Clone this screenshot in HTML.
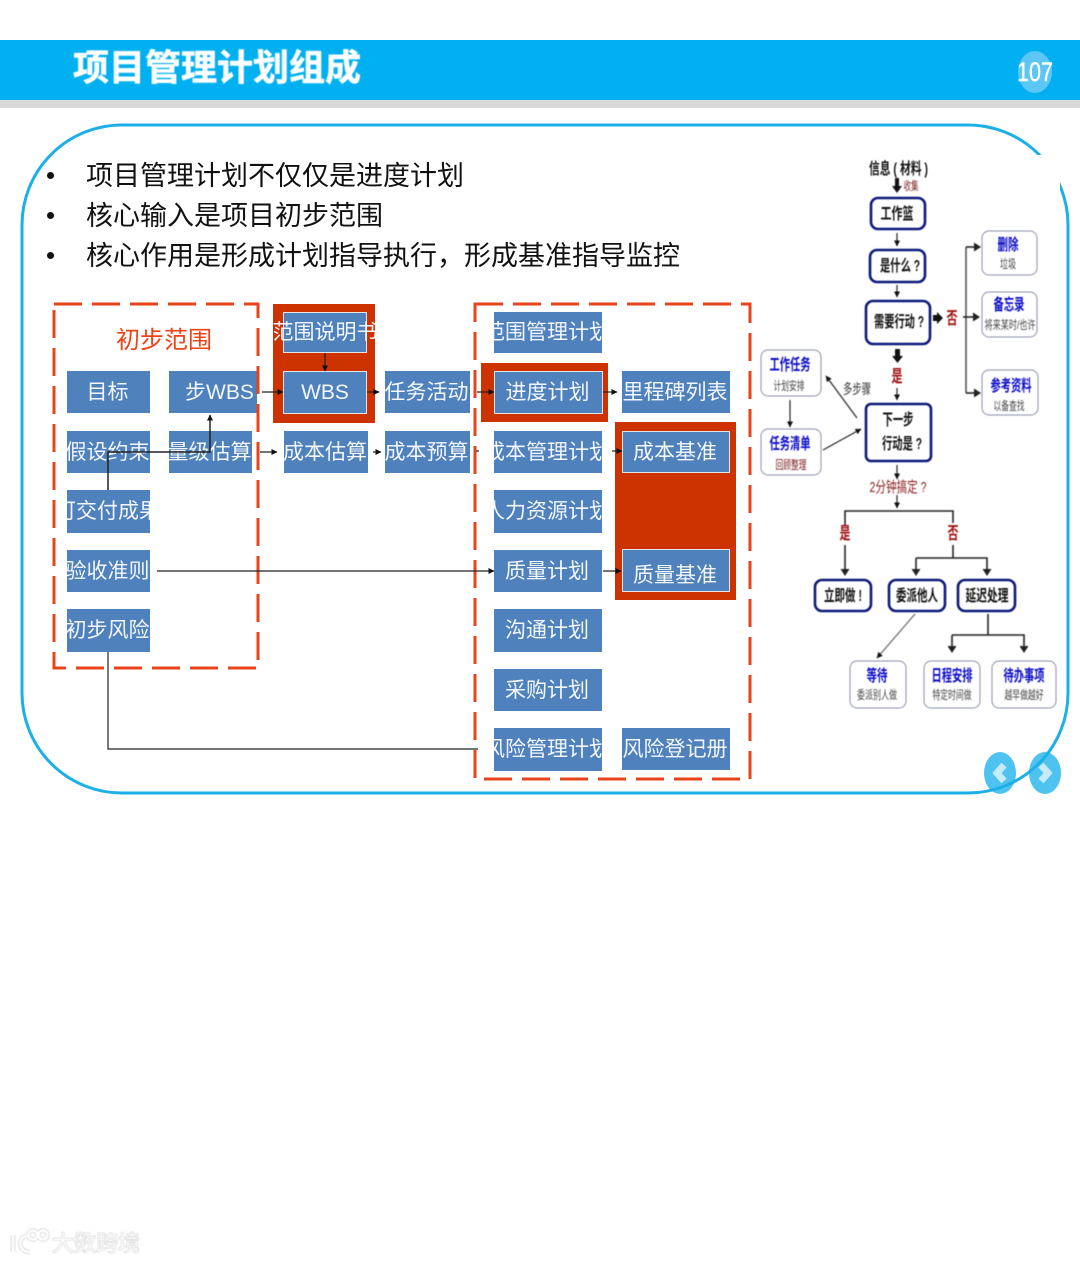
<!DOCTYPE html>
<html lang="zh"><head><meta charset="utf-8"><title>项目管理计划组成</title>
<style>
html,body{margin:0;padding:0;background:#fff}
#p{position:relative;width:1080px;height:1263px;overflow:hidden;background:#fff;font-family:"Liberation Sans","Noto Sans CJK SC",sans-serif}
#p>*{position:absolute}
.bar{left:0;top:40px;width:1080px;height:60px;background:#00b0f0}
.gr{left:0;top:100px;width:1080px;height:8px;background:#d9d9d9}
.t{left:73px;top:44px;font-size:36px;line-height:48px;font-weight:700;color:#fff;white-space:nowrap;-webkit-text-stroke:.6px #fff;filter:blur(.4px)}
.l{left:86px;font-size:27px;line-height:36px;color:#111;white-space:nowrap;filter:blur(.3px)}
.d{left:47px;width:7px;height:7px;border-radius:50%;background:#111}
.r{background:#cc3300}
.b{background:#4f81bd;color:#f4f7fb;font-size:21px;line-height:1;display:flex;align-items:center;justify-content:center;overflow:hidden;white-space:nowrap;box-sizing:border-box;padding-right:2px;filter:blur(.3px)}
.w{border:1px solid #e6e6e6;outline:0}
svg{left:0;top:0}
</style></head><body><div id="p">
<div class="bar"></div><div class="gr"></div>
<div class="t">项目管理计划组成</div>
<svg width="1080" height="1263" viewBox="0 0 1080 1263" style="filter:blur(.3px)">
<ellipse cx="1035" cy="72" rx="17" ry="21" fill="#5cc6f4"/>
<text x="1035" y="81" text-anchor="middle" font-size="27" fill="#fff" stroke="#fff" stroke-width=".4" font-family="Liberation Sans" textLength="36" lengthAdjust="spacingAndGlyphs">107</text>
<ellipse cx="1000" cy="773" rx="16" ry="21" fill="#4fc3f0"/>
<ellipse cx="1045" cy="773" rx="16" ry="21" fill="#4fc3f0"/>
<rect x="22" y="125" width="1046" height="668" rx="100" ry="100" fill="none" stroke="#1cafe8" stroke-width="3"/>
<rect x="1037" y="155" width="23" height="36" fill="#fff"/>
<path d="M1004 765l-7 8 7 8" fill="none" stroke="#c4ecfb" stroke-width="7"/>
<path d="M1041 765l7 8-7 8" fill="none" stroke="#c4ecfb" stroke-width="7"/>
</svg>
<div class="l" style="top:158px">项目管理计划不仅仅是进度计划</div>
<div class="l" style="top:198px">核心输入是项目初步范围</div>
<div class="l" style="top:238px">核心作用是形成计划指导执行，形成基准指导监控</div>
<div class="d" style="top:172px"></div><div class="d" style="top:212px"></div><div class="d" style="top:252px"></div>

<div class="r" style="left:273px;top:304px;width:102px;height:119px"></div>
<div class="r" style="left:481px;top:363px;width:127px;height:59px"></div>
<div class="r" style="left:615px;top:422px;width:121px;height:178px"></div>

<div style="left:116px;top:324px;font-size:24px;line-height:34px;color:#ee4316;white-space:nowrap;filter:blur(.3px)">初步范围</div>

<div class="b" style="left:67px;top:371px;width:83px;height:42px">目标</div>
<div class="b" style="left:67px;top:431px;width:83px;height:42px">假设约束</div>
<div class="b" style="left:67px;top:490px;width:83px;height:43px">可交付成果</div>
<div class="b" style="left:67px;top:550px;width:83px;height:42px">验收准则</div>
<div class="b" style="left:67px;top:609px;width:83px;height:43px">初步风险</div>
<div class="b" style="left:169px;top:371px;width:88px;height:42px;justify-content:flex-start;padding:0 0 0 16px">步WBS</div>
<div class="b" style="left:169px;top:431px;width:83px;height:42px">量级估算</div>
<div class="b w" style="left:283px;top:312px;width:84px;height:41px;overflow:visible;padding:0">范围说明书</div>
<div class="b w" style="left:283px;top:371px;width:84px;height:43px;padding:0">WBS</div>
<div class="b" style="left:284px;top:431px;width:84px;height:42px">成本估算</div>
<div class="b" style="left:385px;top:371px;width:85px;height:42px">任务活动</div>
<div class="b" style="left:385px;top:431px;width:85px;height:42px">成本预算</div>
<div class="b" style="left:494px;top:312px;width:108px;height:41px">范围管理计划</div>
<div class="b w" style="left:494px;top:371px;width:109px;height:43px">进度计划</div>
<div class="b" style="left:494px;top:431px;width:108px;height:42px">成本管理计划</div>
<div class="b" style="left:494px;top:490px;width:108px;height:43px">人力资源计划</div>
<div class="b" style="left:494px;top:550px;width:108px;height:42px">质量计划</div>
<div class="b" style="left:494px;top:609px;width:108px;height:43px">沟通计划</div>
<div class="b" style="left:494px;top:669px;width:108px;height:42px">采购计划</div>
<div class="b" style="left:494px;top:728px;width:108px;height:43px">风险管理计划</div>
<div class="b" style="left:622px;top:371px;width:108px;height:42px">里程碑列表</div>
<div class="b w" style="left:622px;top:431px;width:108px;height:42px">成本基准</div>
<div class="b w" style="left:622px;top:549px;width:108px;height:43px;padding-top:10px">质量基准</div>
<div class="b" style="left:622px;top:728px;width:108px;height:42px">风险登记册</div>

<svg width="1080" height="1263" viewBox="0 0 1080 1263">
<defs>
<marker id="a" markerWidth="6" markerHeight="6" refX="5.500" refY="3" orient="auto" markerUnits="userSpaceOnUse"><path d="M0 0L6 3L0 6z" fill="#111"/></marker>
<marker id="c" markerWidth="7" markerHeight="9" refX="6" refY="4.500" orient="auto" markerUnits="userSpaceOnUse"><path d="M0 0L7 4.500L0 9z" fill="#222"/></marker>
</defs>
<g fill="none" stroke="#e8431a" stroke-width="3" stroke-dasharray="28 10">
<rect x="54" y="304" width="204" height="364"/>
<rect x="475" y="304" width="275" height="475"/>
</g>
<g fill="none" stroke="#222" stroke-width="1.2" marker-end="url(#a)">
<path d="M108 490V452H210V415" stroke-width="1.500"/>
<path d="M262 392H283"/>
<path d="M367 392H379"/>
<path d="M260 452H277"/>
<path d="M373 452H381"/>
<path d="M325 353V371"/>
<path d="M477 392H494"/>
<path d="M603 392H617"/>
<path d="M612 451H622"/>
<path d="M603 571H621"/>
<path d="M157 571H494"/>
</g>
<path d="M108 652V749H478" fill="none" stroke="#222" stroke-width="1.200"/>
<path d="M476 451H479" stroke="#222" stroke-width="1.200"/>

<g style="filter:blur(.5px)">
<g fill="#fff" stroke="#0c1a78" stroke-width="2.600">
<rect x="871" y="198" width="54" height="31" rx="7"/>
<rect x="870" y="250" width="55" height="32" rx="7"/>
<rect x="866" y="301" width="64" height="43" rx="7"/>
<rect x="866" y="404" width="65" height="57" rx="5"/>
<rect x="815" y="580" width="56" height="31" rx="7"/>
<rect x="889" y="580" width="56" height="31" rx="7"/>
<rect x="958" y="580" width="57" height="31" rx="7"/>
</g>
<g fill="#fff" stroke="#8a90a8" stroke-width="1">
<rect x="982" y="231" width="55" height="44" rx="7"/>
<rect x="982" y="292" width="55" height="45" rx="7"/>
<rect x="982" y="370" width="56" height="45" rx="7"/>
<rect x="761" y="350" width="60" height="46" rx="7"/>
<rect x="761" y="429" width="60" height="46" rx="7"/>
<rect x="850" y="661" width="56" height="47" rx="7"/>
<rect x="924" y="661" width="56" height="47" rx="7"/>
<rect x="992" y="661" width="64" height="47" rx="7"/>
</g>
<g fill="none" stroke="#222" stroke-width="1.200" marker-end="url(#a)">
<path d="M897 233V246"/><path d="M897 285V297"/><path d="M897 388V400"/><path d="M897 465V479"/><path d="M897 495V508"/>
<path d="M790 400V427"/>
<path d="M857 418L826 376"/>
<path d="M823 450L861 429"/>
<path d="M915 614L877 658" stroke="#666"/>
</g>
<g fill="none" stroke="#222" stroke-width="1.600">
<path d="M966 247V393" stroke="#555"/>
<path d="M963 317H979" marker-end="url(#c)"/>
<path d="M966 247H980" marker-end="url(#c)"/>
<path d="M966 393H980" marker-end="url(#c)"/>
<path d="M845 525V511H953V523"/>
<path d="M845 545V575" marker-end="url(#c)"/>
<path d="M953 545V558"/>
<path d="M916 558H987V575" marker-end="url(#c)"/>
<path d="M916 558V575" marker-end="url(#c)"/>
<path d="M988 614V635"/>
<path d="M952 635H1024V652" marker-end="url(#c)"/>
<path d="M952 635V652" marker-end="url(#c)"/>
</g>
<g fill="#111">
<path d="M895 178h4v8h3l-5 7-5-7h3z"/>
<path d="M895 349h5v7h3l-5.500 7-5.500-7h3z"/>
<path d="M933 315h4v-3l6 6-6 6v-3h-4z"/>
</g>
<g font-family="Liberation Sans,Noto Sans CJK SC,sans-serif" font-weight="700" text-anchor="middle">
<g fill="#111" font-size="16">
<text x="898.500" y="174" textLength="59" lengthAdjust="spacingAndGlyphs">信息 ( 材料 )</text>
<text x="897" y="219" textLength="33" lengthAdjust="spacingAndGlyphs">工作篮</text>
<text x="900" y="271" textLength="40" lengthAdjust="spacingAndGlyphs">是什么 ?</text>
<text x="899" y="327" textLength="50" lengthAdjust="spacingAndGlyphs">需要行动 ?</text>
<text x="898" y="425" textLength="31" lengthAdjust="spacingAndGlyphs">下一步</text>
<text x="902" y="449" textLength="40" lengthAdjust="spacingAndGlyphs">行动是 ?</text>
<text x="843" y="601" textLength="38" lengthAdjust="spacingAndGlyphs">立即做 !</text>
<text x="917" y="601" textLength="42" lengthAdjust="spacingAndGlyphs">委派他人</text>
<text x="987" y="601" textLength="43" lengthAdjust="spacingAndGlyphs">延迟处理</text>
</g>
<g fill="#0a0ac8" font-size="16">
<text x="1008" y="250" textLength="21" lengthAdjust="spacingAndGlyphs">删除</text>
<text x="1009" y="310" textLength="31" lengthAdjust="spacingAndGlyphs">备忘录</text>
<text x="1011" y="391" textLength="41" lengthAdjust="spacingAndGlyphs">参考资料</text>
<text x="790" y="370" textLength="41" lengthAdjust="spacingAndGlyphs">工作任务</text>
<text x="790" y="449" textLength="41" lengthAdjust="spacingAndGlyphs">任务清单</text>
<text x="877" y="681" textLength="21" lengthAdjust="spacingAndGlyphs">等待</text>
<text x="952" y="681" textLength="41" lengthAdjust="spacingAndGlyphs">日程安排</text>
<text x="1024" y="681" textLength="41" lengthAdjust="spacingAndGlyphs">待办事项</text>
</g>
<g fill="#a01010" font-size="17">
<text x="952" y="324" textLength="11" lengthAdjust="spacingAndGlyphs">否</text>
<text x="897" y="382" textLength="11" lengthAdjust="spacingAndGlyphs">是</text>
<text x="845" y="539" textLength="11" lengthAdjust="spacingAndGlyphs">是</text>
<text x="953" y="539" textLength="11" lengthAdjust="spacingAndGlyphs">否</text>
</g>
</g>
<g font-family="Liberation Sans,Noto Sans CJK SC,sans-serif" text-anchor="middle">
<g fill="#444" font-size="12">
<text x="1008" y="268" textLength="16" lengthAdjust="spacingAndGlyphs">垃圾</text>
<text x="1010" y="329" textLength="51" lengthAdjust="spacingAndGlyphs">将来某时/也许</text>
<text x="1009" y="410" textLength="31" lengthAdjust="spacingAndGlyphs">以备查找</text>
<text x="789" y="390" textLength="31" lengthAdjust="spacingAndGlyphs">计划安排</text>
<text x="877" y="699" textLength="40" lengthAdjust="spacingAndGlyphs">委派别人做</text>
<text x="952" y="699" textLength="39" lengthAdjust="spacingAndGlyphs">特定时间做</text>
<text x="1024" y="699" textLength="39" lengthAdjust="spacingAndGlyphs">越早做越好</text>
</g>
<g fill="#7a1c1c" font-size="12">
<text x="911" y="190" textLength="15" lengthAdjust="spacingAndGlyphs">收集</text>
<text x="791" y="469" textLength="31" lengthAdjust="spacingAndGlyphs">回顾整理</text>
</g>
<text x="857" y="394" font-size="14" fill="#333" textLength="28" lengthAdjust="spacingAndGlyphs">多步骤</text>
<text x="898" y="492" font-size="15" fill="#8a2020" textLength="57" lengthAdjust="spacingAndGlyphs">2分钟搞定 ?</text>
</g>
</g>
</svg>

<svg width="180" height="53" viewBox="0 0 180 53" style="left:0;top:1210px;filter:blur(.4px)">
<g fill="none" stroke="#cfcfcf" stroke-width="4.500" opacity=".75">
<path d="M13 25V42"/><path d="M29 26C18 24 16 42 30 42"/><circle cx="33" cy="25" r="4.500"/><circle cx="43" cy="25" r="4.500"/>
</g>
<g fill="none" stroke="#fff" stroke-width="2.500">
<path d="M13 25V42"/><path d="M29 26C18 24 16 42 30 42"/><circle cx="33" cy="25" r="4.500"/><circle cx="43" cy="25" r="4.500"/>
</g>
<text x="52" y="41" font-family="Liberation Sans,Noto Sans CJK SC,sans-serif" font-size="22" fill="#fff" stroke="#c4c4c4" stroke-width=".9" paint-order="stroke" textLength="88" lengthAdjust="spacingAndGlyphs">大数跨境</text>
</svg>
</div></body></html>
